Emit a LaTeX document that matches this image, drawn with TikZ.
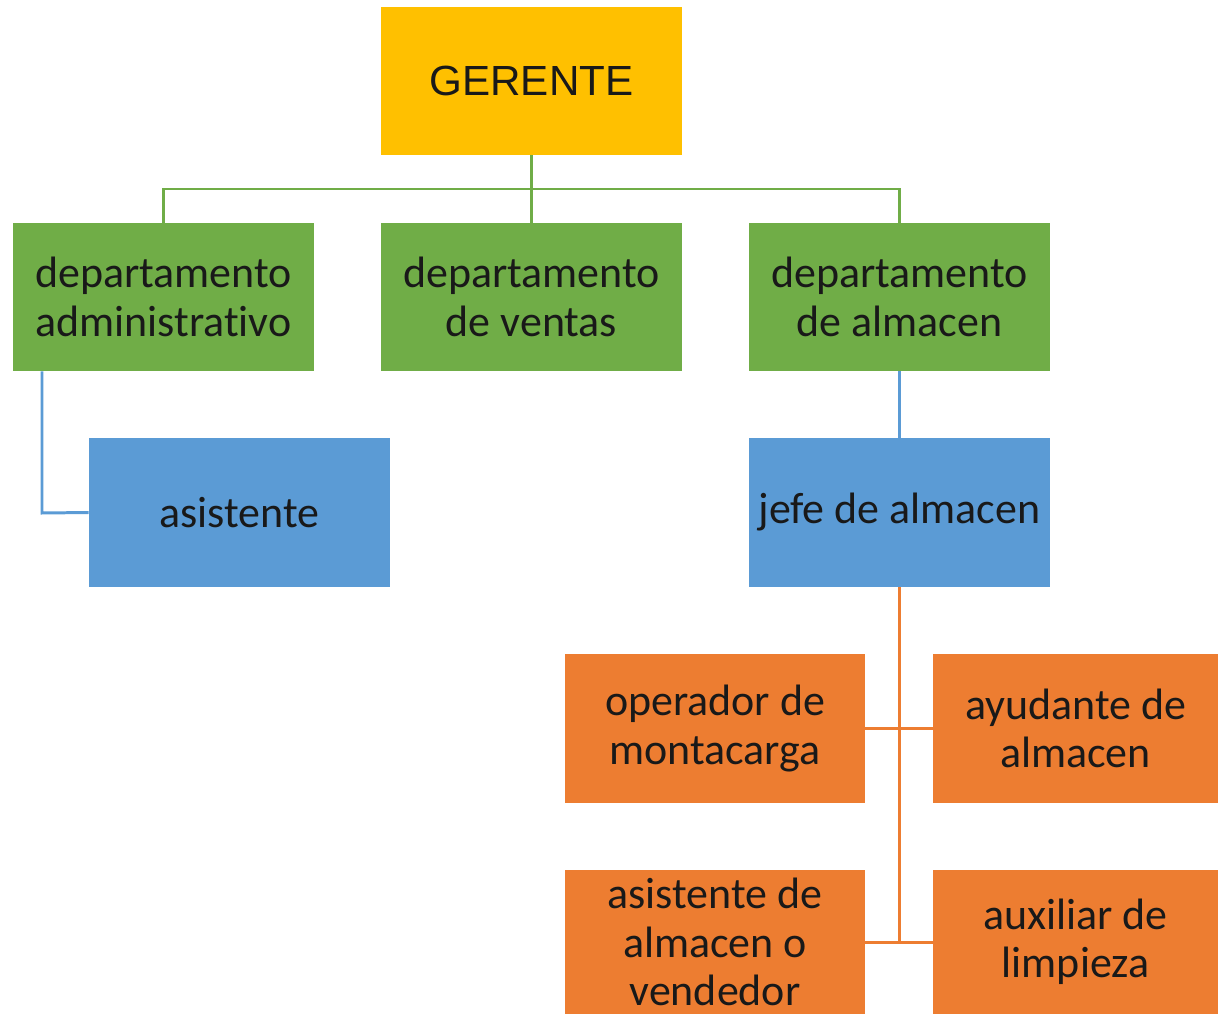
\documentclass[tikz,border=0pt]{standalone}
\usepackage{fontspec}
\setmainfont{Carlito}[Ligatures=NoCommon]
\newfontfamily\arialf{Liberation Sans}
\usepackage{tikz}

\definecolor{gerente}{HTML}{FFC000}
\definecolor{depto}{HTML}{70AD47}
\definecolor{jefes}{HTML}{5B9BD5}
\definecolor{staff}{HTML}{ED7D31}

\begin{document}
\begin{tikzpicture}[x=0.02cm,y=-0.02cm,
		box/.style={inner sep=0pt,align=center,text=black!90,font=\fontsize{25}{27.5}\selectfont,minimum width=6.02cm,minimum height=2.96cm},
		gbox/.style={box,fill=depto},
		bbox/.style={box,fill=jefes,minimum height=2.98cm},
		obox/.style={box,fill=staff,minimum width=6cm,minimum height=2.98cm},
		glink/.style={draw=depto,line width=1.7pt},
		blink/.style={draw=jefes,line width=1.7pt},
		olink/.style={draw=staff,line width=1.7pt}]
		\useasboundingbox (0,0) rectangle (1218,1014);
		\node[box,fill=gerente,font=\arialf\fontsize{24}{27.5}\selectfont] (ger) at (531.5,81){GERENTE};
		%%%%%%%%%%%%%%%%%%%%%%%%%%%%%%%%%
		\node[gbox] (dadm) at (163.5,297){departamento\\administrativo};
		\node[gbox] (dven) at (531.5,297){departamento\\de ventas};
		\node[gbox] (dalm) at (899.5,297){departamento\\de almacen};
		\coordinate (gbus) at (531.5,189);
		\draw[glink] (ger.south) -- (gbus);
		\draw[glink] (dven.north) -- (gbus);
		\draw[glink] (dadm.north) |- (gbus) -| (dalm.north);
		%%%%%%%%%%%%%%%%%%%%%%%%%%%%%%%%%
		\node[bbox] (asis) at (239.5,512.5){asistente};
		\node[bbox] (jefe) at (899.5,512.5){jefe de almacen};
		\coordinate (akink) at (42,513);
		\draw[blink] (dadm.south -| akink) -- (akink) -- (asis.west);
		\draw[blink] (dalm.south) -- (jefe.north);
		%%%%%%%%%%%%%%%%%%%%%%%%%%%%%%%%%
		\node[obox] (oper) at (715,728.5){operador de\\montacarga};
		\node[obox,minimum width=5.7cm] (ayud) at (1075.5,728.5){ayudante de\\almacen};
		\node[obox,minimum height=2.88cm] (asal) at (715,942){asistente de\\almacen o\\vendedor};
		\node[obox,minimum width=5.7cm,minimum height=2.88cm] (auxl) at (1075.5,942){auxiliar de\\limpieza};
		\draw[olink] (jefe.south) -- (jefe.south |- asal.east);
		\draw[olink] (oper.east) -- (ayud.west);
		\draw[olink] (asal.east) -- (auxl.west);
	\end{tikzpicture}
\end{document}
